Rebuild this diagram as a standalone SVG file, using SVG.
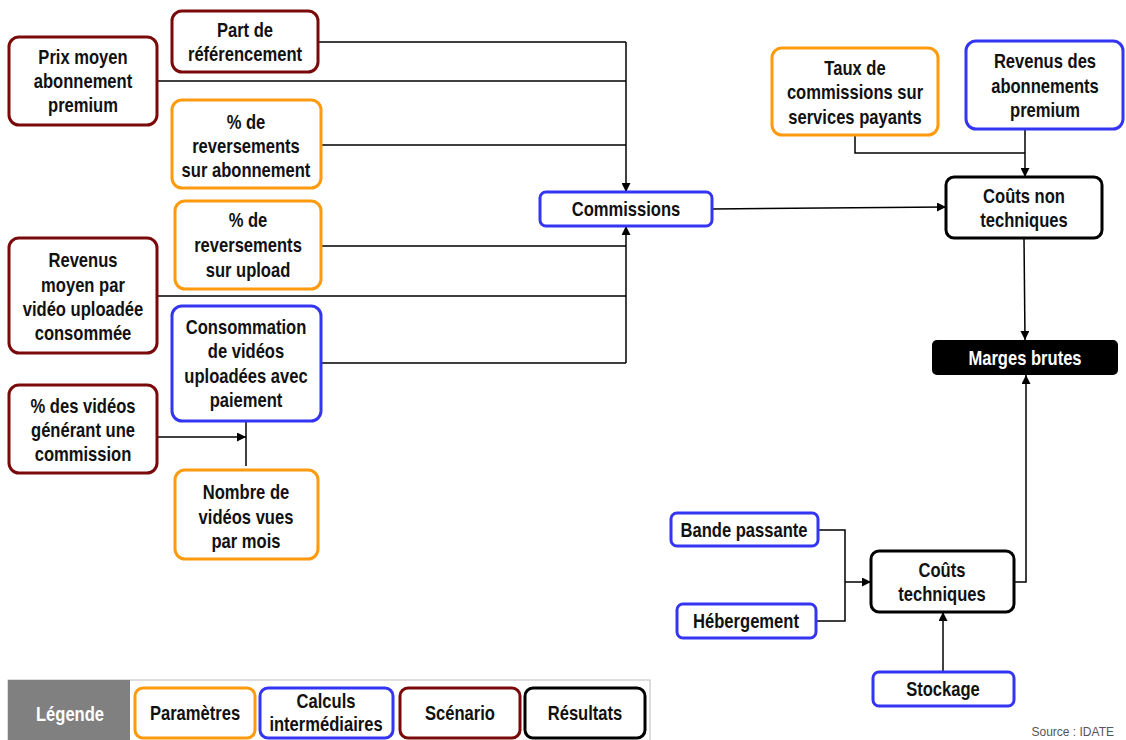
<svg xmlns="http://www.w3.org/2000/svg" width="1126" height="740" viewBox="0 0 1126 740">
<style>
.t{font-family:"Liberation Sans",Arial,sans-serif;font-weight:bold;font-size:19.5px;text-anchor:middle;fill:#111;transform-box:fill-box;transform-origin:center;transform:scaleX(0.85)}
.n rect{fill:#fff;stroke-width:3}
.p rect{stroke:#fd9a0e}
.c rect{stroke:#3434f5}
.s rect{stroke:#7a0a0a}
.r rect{stroke:#000}
.e{fill:none;stroke:#000;stroke-width:1.5}
</style>
<defs>
<marker id="a" viewBox="0 0 10 10" refX="10" refY="5" markerWidth="10" markerHeight="9" markerUnits="userSpaceOnUse" orient="auto"><path d="M0,0L10,5L0,10z" fill="#000"/></marker>
</defs>
<rect width="1126" height="740" fill="#fff"/>
<g id="connectors">
<path class="e" d="M318,42H626M157,81H626M321,145H626"/>
<path class="e" d="M626,42V192" marker-end="url(#a)"/>
<path class="e" d="M321,246H626M157,296H626M321,363H626"/>
<path class="e" d="M626,363V226" marker-end="url(#a)"/>
<path class="e" d="M712,209L946,207" marker-end="url(#a)"/>
<path class="e" d="M855,135V153H1025"/>
<path class="e" d="M1025,129V177" marker-end="url(#a)"/>
<path class="e" d="M1024,238L1025,340" marker-end="url(#a)"/>
<path class="e" d="M1014,582H1026V375" marker-end="url(#a)"/>
<path class="e" d="M818,530H845V621H816"/>
<path class="e" d="M845,582H871" marker-end="url(#a)"/>
<path class="e" d="M943,672V612" marker-end="url(#a)"/>
<path class="e" d="M157,437H246" marker-end="url(#a)"/>
<path class="e" d="M246,421V466"/>
</g>
<g id="n1" class="n s"><rect x="172" y="11" width="146" height="61" rx="10"/><text class="t"><tspan x="245" y="37">Part de</tspan><tspan x="245" y="61">référencement</tspan></text></g>
<g id="n2" class="n s"><rect x="9" y="37" width="148" height="88" rx="10"/><text class="t"><tspan x="83" y="64">Prix moyen</tspan><tspan x="83" y="88">abonnement</tspan><tspan x="83" y="112">premium</tspan></text></g>
<g id="n3" class="n p"><rect x="172" y="100" width="149" height="88" rx="10"/><text class="t"><tspan x="246" y="129">% de</tspan><tspan x="246" y="153">reversements</tspan><tspan x="246" y="177">sur abonnement</tspan></text></g>
<g id="n4" class="n p"><rect x="175" y="201" width="146" height="88" rx="10"/><text class="t"><tspan x="248" y="227">% de</tspan><tspan x="248" y="252">reversements</tspan><tspan x="248" y="277">sur upload</tspan></text></g>
<g id="n5" class="n s"><rect x="9" y="238" width="148" height="115" rx="10"/><text class="t"><tspan x="83" y="267">Revenus</tspan><tspan x="83" y="292">moyen par</tspan><tspan x="83" y="316">vidéo uploadée</tspan><tspan x="83" y="340">consommée</tspan></text></g>
<g id="n6" class="n c"><rect x="172" y="306" width="149" height="115" rx="10"/><text class="t"><tspan x="246" y="334">Consommation</tspan><tspan x="246" y="358">de vidéos</tspan><tspan x="246" y="383">uploadées avec</tspan><tspan x="246" y="407">paiement</tspan></text></g>
<g id="n7" class="n s"><rect x="9" y="385" width="148" height="88" rx="10"/><text class="t"><tspan x="83" y="413">% des vidéos</tspan><tspan x="83" y="437">générant une</tspan><tspan x="83" y="461">commission</tspan></text></g>
<g id="n8" class="n p"><rect x="175" y="470" width="143" height="89" rx="10"/><text class="t"><tspan x="246" y="499">Nombre de</tspan><tspan x="246" y="524">vidéos vues</tspan><tspan x="246" y="548">par mois</tspan></text></g>
<g id="n9" class="n c"><rect x="540" y="192" width="172" height="34" rx="6"/><text class="t" x="626" y="216">Commissions</text></g>
<g id="n10" class="n p"><rect x="772" y="48" width="166" height="87" rx="10"/><text class="t"><tspan x="855" y="75">Taux de</tspan><tspan x="855" y="99">commissions sur</tspan><tspan x="855" y="124">services payants</tspan></text></g>
<g id="n11" class="n c"><rect x="966" y="41" width="157" height="88" rx="10"/><text class="t"><tspan x="1045" y="68">Revenus des</tspan><tspan x="1045" y="93">abonnements</tspan><tspan x="1045" y="117">premium</tspan></text></g>
<g id="n12" class="n r"><rect x="946" y="177" width="156" height="61" rx="8"/><text class="t"><tspan x="1024" y="203">Coûts non</tspan><tspan x="1024" y="227">techniques</tspan></text></g>
<g id="n13"><rect x="932" y="340" width="186" height="35" rx="5" fill="#000"/><text class="t" x="1025" y="365" style="fill:#fff">Marges brutes</text></g>
<g id="n14" class="n c"><rect x="671" y="513" width="147" height="33" rx="6"/><text class="t" x="744" y="537">Bande passante</text></g>
<g id="n15" class="n c"><rect x="677" y="604" width="139" height="34" rx="6"/><text class="t" x="746" y="628">Hébergement</text></g>
<g id="n16" class="n r"><rect x="871" y="551" width="143" height="61" rx="8"/><text class="t"><tspan x="942" y="577">Coûts</tspan><tspan x="942" y="601">techniques</tspan></text></g>
<g id="n17" class="n c"><rect x="873" y="672" width="141" height="34" rx="6"/><text class="t" x="943" y="696">Stockage</text></g>
<g id="legend">
<rect x="8" y="680" width="642" height="62" fill="#fff" stroke="#bbb" stroke-width="1"/>
<rect x="8" y="680" width="122" height="62" fill="#808080"/>
<text class="t" x="70" y="721" style="fill:#fff">Légende</text>
<g class="n p"><rect x="135" y="688" width="120" height="50" rx="8"/><text class="t" x="195" y="720">Paramètres</text></g>
<g class="n c"><rect x="260" y="688" width="133" height="50" rx="8"/><text class="t"><tspan x="326" y="708">Calculs</tspan><tspan x="326" y="731">intermédiaires</tspan></text></g>
<g class="n s"><rect x="400" y="688" width="120" height="50" rx="8"/><text class="t" x="460" y="720">Scénario</text></g>
<g class="n r"><rect x="525" y="688" width="120" height="50" rx="8"/><text class="t" x="585" y="720">Résultats</text></g>
</g>
<text x="1114" y="736" style="font-family:'Liberation Sans',Arial,sans-serif;font-size:12px;fill:#555;text-anchor:end">Source : IDATE</text>
</svg>
